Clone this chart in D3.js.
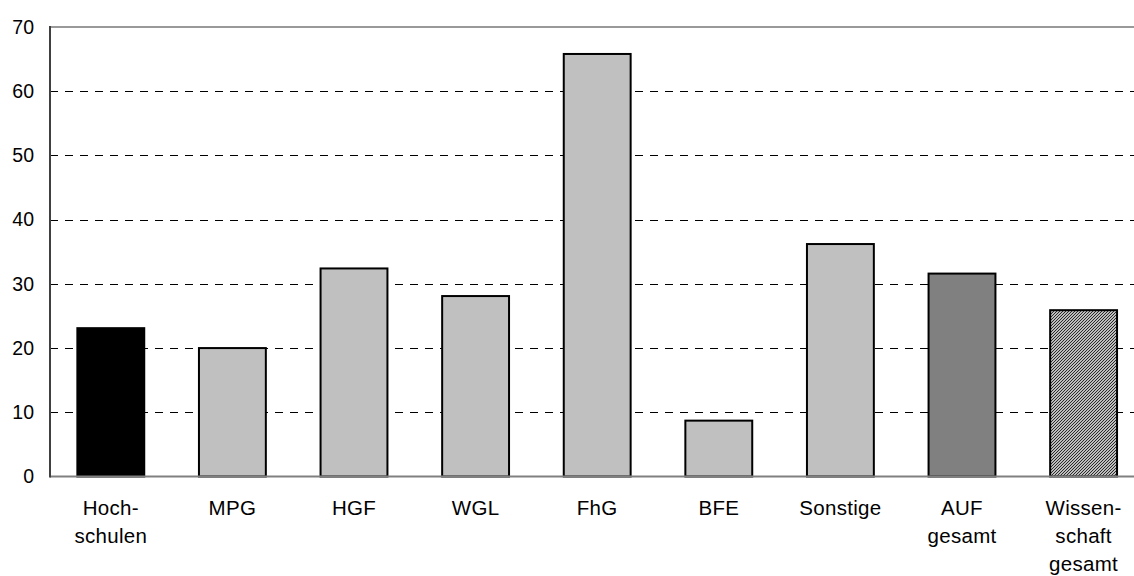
<!DOCTYPE html>
<html>
<head>
<meta charset="utf-8">
<script src="https://cdn.jsdelivr.net/npm/d3@7"></script>
<style>
  body { margin: 0; background: #fff; }
  svg { display: block; font-family: "Liberation Sans", Arial, sans-serif; }
</style>
</head>
<body>
<div id="chart"></div>
<script>
// Categories (label lines) and values.
var categories = ["Hochschulen", "MPG", "HGF", "WGL", "FhG", "BFE", "Sonstige", "AUF gesamt", "Wissenschaft gesamt"];
var labelLines = [["Hoch-", "schulen"], ["MPG"], ["HGF"], ["WGL"], ["FhG"], ["BFE"], ["Sonstige"], ["AUF", "gesamt"], ["Wissen-", "schaft", "gesamt"]];
var values = [23.1, 20.0, 32.4, 28.1, 65.8, 8.7, 36.2, 31.6, 25.9];
var fills = ["#000000", "#c0c0c0", "#c0c0c0", "#c0c0c0", "#c0c0c0", "#c0c0c0", "#c0c0c0", "#808080", "url(#hatch)"];
var yTicks = [0, 10, 20, 30, 40, 50, 60, 70];

var divWidth = 1134,
    divHeight = 576,
    margin = {top: 27, left: 50, bottom: 100},
    step = 121.6,
    plotRight = margin.left + step * categories.length,
    plotBottom = divHeight - margin.bottom + 0.5;

var svg = d3.select("#chart")
  .append("svg")
  .attr("width", divWidth)
  .attr("height", divHeight);

// Hatch fill for the last bar.
var pat = svg.append("defs").append("pattern")
  .attr("id", "hatch")
  .attr("patternUnits", "userSpaceOnUse")
  .attr("width", 3)
  .attr("height", 3);
pat.append("rect").attr("width", 3).attr("height", 3).attr("fill", "#bdbdbd");
pat.append("path")
  .attr("d", "M-1,1 L1,-1 M0,3 L3,0 M2,4 L4,2")
  .attr("stroke", "#2a2a2a")
  .attr("stroke-width", 1);

var x = d3.scaleBand(categories, [margin.left, plotRight])
  .paddingInner(0.45)
  .paddingOuter(0.225);

var y = d3.scaleLinear()
  .domain([0, 70])
  .range([plotBottom, margin.top]);

// Dashed gridlines.
svg.append("g")
  .selectAll("line")
  .data(yTicks.filter(d => d > 0 && d < 70))
  .join("line")
    .attr("x1", margin.left)
    .attr("x2", plotRight)
    .attr("y1", d => Math.round(y(d)) + 0.5)
    .attr("y2", d => Math.round(y(d)) + 0.5)
    .attr("stroke", "#000")
    .attr("stroke-width", 1)
    .attr("stroke-dasharray", "8,7");

// Top border.
svg.append("line")
  .attr("x1", margin.left)
  .attr("x2", plotRight)
  .attr("y1", y(70))
  .attr("y2", y(70))
  .attr("stroke", "#999")
  .attr("stroke-width", 2);

// Bars.
svg.append("g")
  .selectAll("rect")
  .data(values)
  .join("rect")
    .attr("x", (d, i) => x(categories[i]))
    .attr("y", d => y(d))
    .attr("width", x.bandwidth())
    .attr("height", d => y(0) - y(d))
    .attr("fill", (d, i) => fills[i])
    .attr("stroke", "#000")
    .attr("stroke-width", 2);

// Baseline and left axis.
svg.append("line")
  .attr("x1", margin.left)
  .attr("x2", plotRight)
  .attr("y1", y(0))
  .attr("y2", y(0))
  .attr("stroke", "#808080")
  .attr("stroke-width", 2);

svg.append("line")
  .attr("x1", margin.left)
  .attr("x2", margin.left)
  .attr("y1", y(70) - 1)
  .attr("y2", y(0) + 1)
  .attr("stroke", "#404040")
  .attr("stroke-width", 2);

// Y tick labels.
svg.append("g")
  .selectAll("text")
  .data(yTicks)
  .join("text")
    .attr("x", 34)
    .attr("y", d => y(d))
    .attr("dy", "0.35em")
    .attr("text-anchor", "end")
    .style("font-size", "19.5px")
    .text(d => d);

// X category labels.
svg.append("g")
  .selectAll("text")
  .data(categories)
  .join("text")
    .attr("text-anchor", "middle")
    .style("font-size", "20.5px")
    .style("letter-spacing", "0.3px")
    .each(function (d, i) {
      var cx = x(d) + x.bandwidth() / 2;
      d3.select(this).selectAll("tspan")
        .data(labelLines[i])
        .join("tspan")
          .attr("x", cx)
          .attr("y", (t, j) => 515 + j * 28)
          .text(t => t);
    });
</script>
</body>
</html>
